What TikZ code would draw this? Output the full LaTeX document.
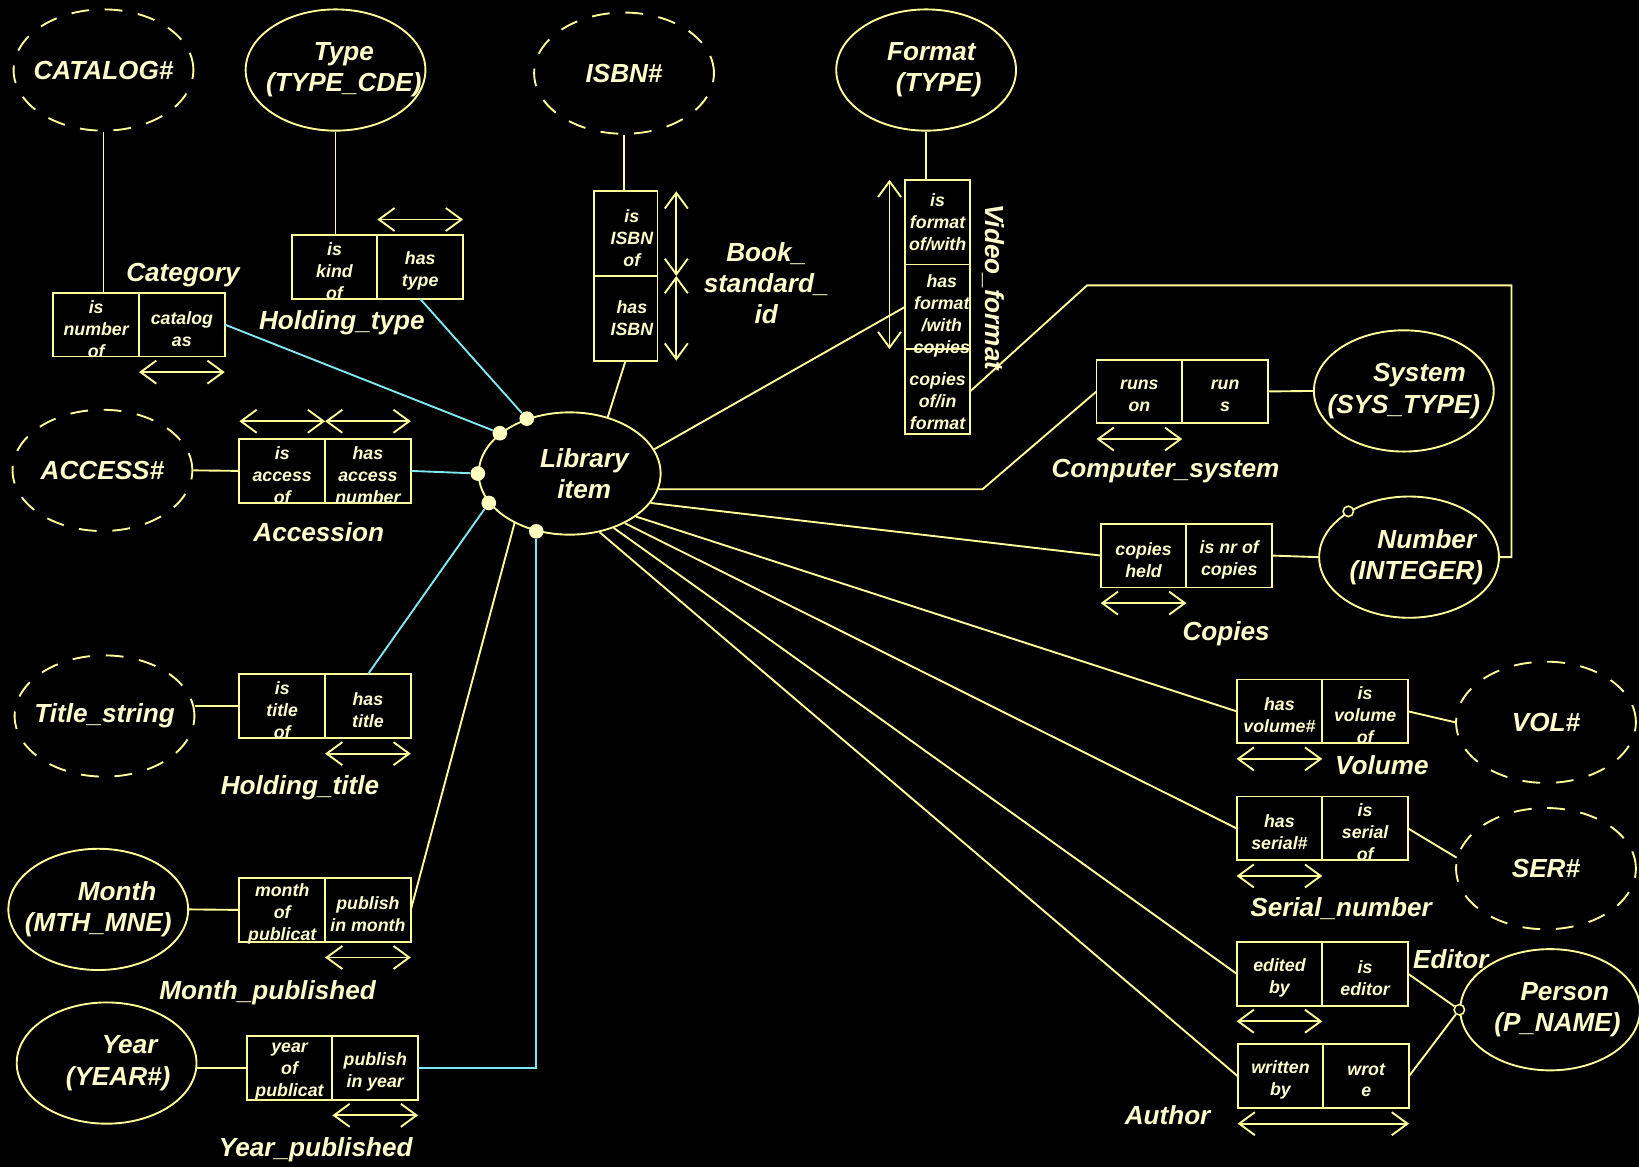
\documentclass[tikz,border=0pt]{standalone}
\usepackage{fontspec}
\setmainfont{Liberation Sans}
\usetikzlibrary{shapes.geometric}
\usetikzlibrary{arrows.meta}
\definecolor{color_orm_bg}{HTML}{000000}
\definecolor{color_orm_line}{HTML}{FFFF99}
\definecolor{color_orm_text}{HTML}{FFFFCC}
\definecolor{color_orm_link}{HTML}{80E8F0}
\definecolor{color_orm_dot}{HTML}{FFFFC0}
\def\ormlinewidth{1.8pt}
\def\labelfont{\fontsize{25}{30}\selectfont\bfseries\itshape}
\def\cellfont{\fontsize{17}{21}\selectfont\bfseries\itshape}
\tikzset{
    rolecell/.style={draw=color_orm_line, line width=\ormlinewidth, minimum width=82pt, minimum height=61pt, inner sep=0pt, outer sep=0pt},
    rolecellv/.style={rolecell, minimum width=61pt, minimum height=81pt},
    roletext/.style={text=color_orm_text, font=\cellfont, align=center, inner sep=0pt},
    valuebox/.style={ellipse, draw=color_orm_line, line width=\ormlinewidth, minimum width=172pt, minimum height=116pt, inner sep=0pt},
    valuedash/.style={valuebox, dash pattern=on 17pt off 15pt},
    bigtext/.style={text=color_orm_text, font=\labelfont, align=center, inner sep=0pt},
    ormline/.style={draw=color_orm_line, line width=\ormlinewidth},
    ormlink/.style={draw=color_orm_link, line width=\ormlinewidth},
    uniq/.style={draw=color_orm_line, line width=\ormlinewidth, {Straight Barb[length=15pt,width=22pt]}-{Straight Barb[length=15pt,width=22pt]}},
    joint/.style={circle, fill=color_orm_dot, minimum size=14pt, inner sep=0pt},
    hollowjoint/.style={circle, draw=color_orm_line, fill=color_orm_bg, line width=1.5pt, minimum size=10pt, inner sep=0pt},
}
% two roles of one fact type, side by side
\def\rolepair#1(#2,#3)#4#5{
    \node[rolecell,anchor=north west] (#1a) at (#2,#3) {};
    \node[rolecell,anchor=west] (#1b) at (#1a.east) {};
    \node[roletext] (#1at) at ([yshift=-4pt]#1a.center) {#4};
    \node[roletext] (#1bt) at ([yshift=-4pt]#1b.center) {#5};
}
% value type ellipse with its text
\def\valuetype[#1](#2,#3,#4)#5{
    \node[#1] (#2) at (#3,#4) {};
    \node[bigtext] (#2t) at (#2.center) {#5};
}

\begin{document}
\begin{tikzpicture}[x=1pt,y=-1pt]
        \fill[color_orm_bg] (0,0) rectangle (1568,1116);
        \useasboundingbox (0,0) rectangle (1568,1116);
        % value types
        \valuetype[valuedash](catno,99,67){CATALOG\#}
        \valuetype[valuebox](typecde,321,67){\hspace*{16pt}Type\\\hspace*{16pt}(TYPE\_CDE)}
        \valuetype[valuedash](isbnno,597,70){ISBN\#}
        \valuetype[valuebox](fmttype,886,67){\hspace*{10pt}Format\\\hspace*{24pt}(TYPE)}
        \valuetype[valuedash](accno,98,450){ACCESS\#}
        \valuetype[valuedash](titlestr,100,685){Title\_string}
        \valuetype[valuebox](mthmne,94,870){\hspace*{36pt}Month\\(MTH\_MNE)}
        \valuetype[valuebox](yearno,102,1017){\hspace*{44pt}Year\\\hspace*{22pt}(YEAR\#)}
        \valuetype[valuebox](systype,1343,374){\hspace*{30pt}System\\(SYS\_TYPE)}
        \valuetype[valuebox](numint,1348,533){\hspace*{34pt}Number\\\hspace*{14pt}(INTEGER)}
        \valuetype[valuedash](volno,1479,691){VOL\#}
        \valuetype[valuedash](serno,1479,831){SER\#}
        \valuetype[valuebox](pname,1483,966){\hspace*{28pt}Person\\\hspace*{14pt}(P\_NAME)}
        % the entity
        \node[valuebox, minimum width=174pt, minimum height=117pt] (lib) at (545,453) {};
        \node[bigtext] (libt) at ([xshift=14pt]lib.center) {Library\\item};

        % fact types
        \rolepair cat(51,280){is\\number\\of}{catalog\\as}
        \rolepair ht(279,225){is\\kind\\of}{has\\type}
        \rolepair acc(229,420){is\\access\\of}{has\\access\\number}
        \rolepair hti(229,645){is\\title\\of}{has\\title}
        \rolepair mp(229,840){month\\of\\publicat}{publish\\in month}
        \rolepair yp(236,991){year\\of\\publicat}{publish\\in year}
        \rolepair cs(1049,344){runs\\on}{run\\s}
        \rolepair cp(1053,501){copies\\held}{is nr of\\copies}
        \rolepair vol(1183,650){has\\volume\#}{is\\volume\\of}
        \rolepair ser(1183,762){has\\serial\#}{is\\serial\\of}
        \rolepair ed(1183,901){edited\\by}{is\\editor}
        \rolepair au(1184,999){written\\by}{wrot\\e}
        \node[rolecellv,anchor=north west] (bka) at (568,183) {};
        \node[rolecellv,anchor=north] (bkb) at (bka.south) {};
        \node[roletext] (bkat) at ([xshift=6pt,yshift=-4pt]bka.center) {is\\ISBN\\of};
        \node[roletext] (bkbt) at ([xshift=6pt]bkb.center) {has\\ISBN};
        \node[rolecellv,minimum width=62pt,anchor=north west] (vfa) at (866,172) {};
        \node[rolecellv,minimum width=62pt,anchor=north] (vfb) at (vfa.south) {};
        \node[rolecellv,minimum width=62pt,anchor=north] (vfc) at (vfb.south) {};
        \node[roletext] (vfat) at (vfa.center) {is\\format\\of/with};
        \node[roletext] (vfbt) at ([xshift=4pt,yshift=-9pt]vfb.center) {has\\format\\/with\\copies};
        \node[roletext] (vfct) at ([yshift=-9pt]vfc.center) {copies\\of/in\\format};

        % uniqueness
        \foreach \c in {catb,htib,mpb,ypb,csa,cpa,vola,sera,eda}
            \draw[uniq] ([yshift=-15pt]\c.south west) -- ([yshift=-15pt]\c.south east);
        \draw[uniq] ([yshift=15pt]htb.north west) -- ([yshift=15pt]htb.north east);
        \draw[uniq] ([yshift=17pt]acca.north west) -- ([yshift=17pt]acca.north east);
        \draw[uniq] ([yshift=17pt]accb.north west) -- ([yshift=17pt]accb.north east);
        \draw[uniq] ([yshift=-15pt]aua.south west) -- ([yshift=-15pt]aub.south east);
        \draw[uniq] ([xshift=18pt]bka.north east) -- ([xshift=18pt]bka.south east);
        \draw[uniq] ([xshift=18pt]bkb.north east) -- ([xshift=18pt]bkb.south east);
        \draw[uniq] ([xshift=-15pt]vfa.north west) -- ([xshift=-15pt]vfb.south west);

        % joints
        \node[joint] (jht) at (lib.128) {};
        \node[joint] (jcat) at (lib.150) {};
        \node[joint] (jacc) at (lib.180) {};
        \node[joint] (jhti) at (lib.200) {};
        \node[joint] (jyp) at (lib.240) {};
        \node[hollowjoint] (pjoin) at (pname.west) {};
        \node[hollowjoint] (numring) at (numint.143) {};
        \coordinate (fmtknee) at (1040,273);
        \coordinate (fmtcorner) at (1446,273);
        \coordinate (csknee) at (940,469);

        % roles to value types
        \draw[ormline] (catno.south) -- (catno.south |- cata.north);
        \draw[ormline] (typecde.south) -- (typecde.south |- hta.north);
        \draw[ormline] (isbnno.south) -- (isbnno.south |- bka.north);
        \draw[ormline] (fmttype.south) -- (fmttype.south |- vfa.north);
        \draw[ormline] (accno.east) -- (acca.west);
        \draw[ormline] (htia.west -| titlestr.east) -- (htia.west);
        \draw[ormline] (mthmne.east) -- (mpa.west);
        \draw[ormline] (ypa.west -| yearno.east) -- (ypa.west);
        \draw[ormline] (csb.east) -- (systype.west);
        \draw[ormline] (cpb.east) -- (numint.west);
        \draw[ormline] (volb.east) -- (volno.west);
        \draw[ormline] (serb.east) -- (serno.173);
        \draw[ormline] (edb.east) -- (pjoin);
        \draw[ormline] (aub.east) -- (pjoin);
        \draw[ormline] (vfc.east) -- (fmtknee) -- (fmtcorner) |- (numint.east);

        % roles to library item
        \draw[ormline] (bkb.south) -- (lib.56);
        \draw[ormline] (lib.16) -- (vfb.west);
        \draw[ormline] (lib.350) -- (lib.350 -| csknee) -- (csa.west);
        \draw[ormline] (lib.340) -- (cpa.west);
        \draw[ormline] (lib.327) -- (vola.west);
        \draw[ormline] (lib.318) -- (sera.west);
        \draw[ormline] (lib.309) -- (eda.west);
        \draw[ormline] (lib.297) -- (aua.west);
        \draw[ormline] (mpb.east) -- (lib.222);
        \draw[ormlink] (catb.east) -- (jcat);
        \draw[ormlink] (htb.south) -- (jht);
        \draw[ormlink] (accb.east) -- (jacc);
        \draw[ormlink] (htib.north) -- (jhti);
        \draw[ormlink] (ypb.east) -| (jyp);

        % fact type names
        \node[bigtext] (catlbl) at (175,263) {Category};
        \node[bigtext] (htlbl) at (327,309) {Holding\_type};
        \node[bigtext] (bklbl) at (733,271) {Book\_\\standard\_\\id};
        \node[bigtext, rotate=-90] (vflbl) at (950,275) {Video\_format};
        \node[bigtext] (cslbl) at (1115,451) {Computer\_system};
        \node[bigtext] (cplbl) at (1173,606) {Copies};
        \node[bigtext] (vollbl) at (1322,732) {Volume};
        \node[bigtext] (serlbl) at (1283,869) {Serial\_number};
        \node[bigtext] (edlbl) at (1388,918) {Editor};
        \node[bigtext] (aulbl) at (1117,1067) {Author};
        \node[bigtext] (acclbl) at (305,509) {Accession};
        \node[bigtext] (htilbl) at (287,754) {Holding\_title};
        \node[bigtext] (mplbl) at (256,950) {Month\_published};
        \node[bigtext] (yplbl) at (302,1100) {Year\_published};
    \end{tikzpicture}
\end{document}
